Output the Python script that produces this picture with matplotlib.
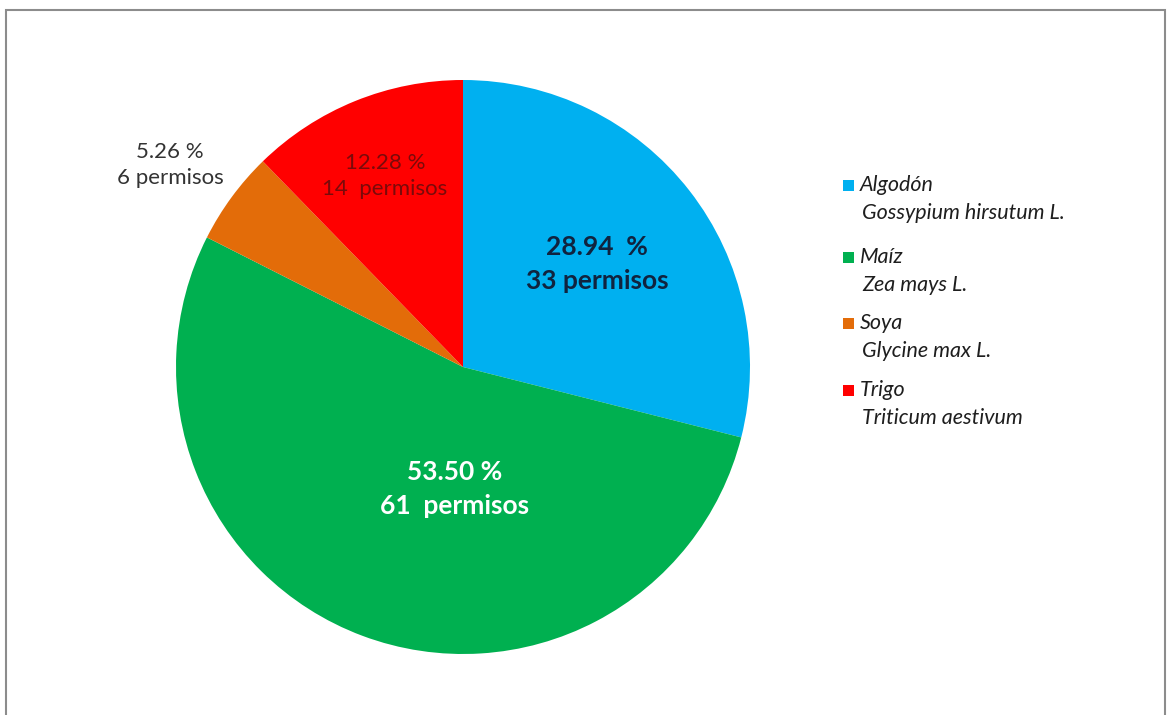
import matplotlib.pyplot as plt
from matplotlib.patches import Rectangle

plt.rcParams['font.family'] = ['Lato', 'DejaVu Sans']

# data
cultivos = ["Algodón", "Maíz", "Soya", "Trigo"]
especies = ["Gossypium hirsutum L.", "Zea mays L.", "Glycine max L.", "Triticum aestivum"]
porcentajes = [28.94, 53.50, 5.26, 12.28]
permisos = [33, 61, 6, 14]
colores = ["#00B0F0", "#00B050", "#E36C09", "#FF0000"]

fig = plt.figure(figsize=(11.68, 7.15), dpi=100)
ax = fig.add_axes([0, 0, 1, 1])

# frame
fig.patches.append(Rectangle((6 / 1168, -0.01), 1159 / 1168, 1 - 10 / 715 + 0.01,
                             transform=fig.transFigure, fill=False,
                             edgecolor="#8c8c8c", linewidth=1.5))

wedges, _ = ax.pie(porcentajes, colors=colores, startangle=90, counterclock=False,
                   center=(463, 348), radius=287, frame=True)
ax.set_xlim(0, 1168)
ax.set_ylim(0, 715)
ax.axis("off")

# labels
ax.text(597, 715 - 264, f"{porcentajes[0]:.2f}  %\n{permisos[0]} permisos", ha="center", va="center",
        fontsize=19, color="#10233f", linespacing=1.5, fontweight="bold")
ax.text(455, 715 - 489, f"{porcentajes[1]:.2f} %\n{permisos[1]}  permisos", ha="center", va="center",
        fontsize=19, color="white", linespacing=1.5, fontweight="bold")
ax.text(385, 715 - 176, f"{porcentajes[3]:.2f} %\n{permisos[3]}  permisos", ha="center", va="center",
        fontsize=16, color="#7a0a0a", linespacing=1.4)
ax.text(170, 715 - 165, f"{porcentajes[2]:.2f} %\n{permisos[2]} permisos", ha="center", va="center",
        fontsize=16, color="#333333", linespacing=1.4)

# legend
ys = [185, 257, 323, 390]
for c, e, col, y in zip(cultivos, especies, colores, ys):
    ax.add_patch(Rectangle((843, 715 - y - 5.5), 11, 11, facecolor=col, edgecolor="none"))
    ax.text(860, 715 - y, c, ha="left", va="center", fontsize=15.5, style="italic", color="#1e1e1e")
    ax.text(862, 715 - y - 28, e, ha="left", va="center", fontsize=15.5, style="italic", color="#1e1e1e")

fig.savefig("out.png", dpi=100)
